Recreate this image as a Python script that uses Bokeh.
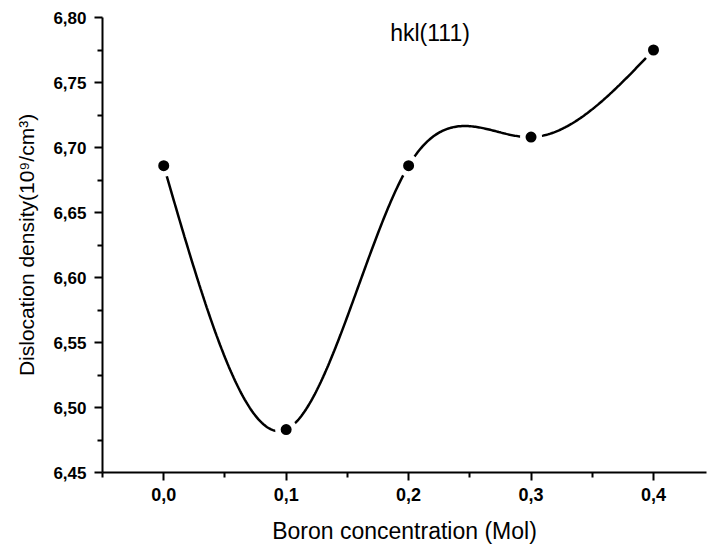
import numpy as np
from bokeh.plotting import figure
from bokeh.models import Range1d, FixedTicker, Label
from bokeh.embed import file_html
from bokeh.resources import INLINE

# data
boron = [0.0, 0.1, 0.2, 0.3, 0.4]
density = [6.686, 6.483, 6.686, 6.708, 6.775]
x_ticks = [0.0, 0.1, 0.2, 0.3, 0.4]
x_tick_labels = ["0,0", "0,1", "0,2", "0,3", "0,4"]
y_ticks = [6.45, 6.50, 6.55, 6.60, 6.65, 6.70, 6.75, 6.80]
y_tick_labels = ["6,45", "6,50", "6,55", "6,60", "6,65", "6,70", "6,75", "6,80"]


def natural_spline(xs, ys, n=400):
    xs = np.asarray(xs, float)
    ys = np.asarray(ys, float)
    k = len(xs)
    h = np.diff(xs)
    A = np.zeros((k, k))
    b = np.zeros(k)
    A[0, 0] = 1
    A[-1, -1] = 1
    for i in range(1, k - 1):
        A[i, i - 1] = h[i - 1]
        A[i, i] = 2 * (h[i - 1] + h[i])
        A[i, i + 1] = h[i]
        b[i] = 6 * ((ys[i + 1] - ys[i]) / h[i] - (ys[i] - ys[i - 1]) / h[i - 1])
    M = np.linalg.solve(A, b)
    xx = np.linspace(xs[0], xs[-1], n)
    yy = np.empty_like(xx)
    for j, x in enumerate(xx):
        i = min(np.searchsorted(xs, x, side="right") - 1, k - 2)
        t1 = xs[i + 1] - x
        t0 = x - xs[i]
        yy[j] = (M[i] * t1 ** 3 / (6 * h[i]) + M[i + 1] * t0 ** 3 / (6 * h[i])
                 + (ys[i] / h[i] - M[i] * h[i] / 6) * t1
                 + (ys[i + 1] / h[i] - M[i + 1] * h[i] / 6) * t0)
    return xx, yy


p = figure(width=707, height=549, output_backend="svg", toolbar_location=None,
           x_range=Range1d(-0.05, 0.4433), y_range=Range1d(6.45, 6.80),
           min_border_left=102, min_border_right=1, min_border_top=17, min_border_bottom=77)
p.outline_line_color = None
p.xgrid.visible = False
p.ygrid.visible = False
p.background_fill_color = "white"
p.border_fill_color = "white"

sx, sy = natural_spline(boron, density)
p.line(sx, sy, line_color="black", line_width=2.5)
p.scatter(boron, density, size=22, color="white", line_color=None)
p.scatter(boron, density, size=11, color="black", line_color=None)

p.xaxis.ticker = FixedTicker(ticks=x_ticks, minor_ticks=[-0.05, 0.05, 0.15, 0.25, 0.35])
p.xaxis.major_label_overrides = dict(zip(x_ticks, x_tick_labels))
p.yaxis.ticker = FixedTicker(ticks=y_ticks, minor_ticks=[6.475, 6.525, 6.575, 6.625, 6.675, 6.725, 6.775])
p.yaxis.major_label_overrides = dict(zip(y_ticks, y_tick_labels))

for ax in (p.xaxis, p.yaxis):
    ax.axis_line_width = 2
    ax.axis_line_color = "black"
    ax.major_tick_line_width = 2
    ax.minor_tick_line_width = 2
    ax.major_tick_line_color = "black"
    ax.minor_tick_line_color = "black"
    ax.major_tick_in = 0
    ax.major_tick_out = 8
    ax.minor_tick_in = 0
    ax.minor_tick_out = 5
    ax.major_label_text_font = "Liberation Sans"
    ax.major_label_text_font_style = "bold"
    ax.major_label_text_color = "black"
    ax.axis_label_text_font = "Liberation Sans"
    ax.axis_label_text_font_style = "normal"
    ax.axis_label_text_color = "black"

p.xaxis.major_label_text_font_size = "18px"
p.yaxis.major_label_text_font_size = "17px"
p.xaxis.axis_label_text_font_size = "23px"
p.yaxis.axis_label_text_font_size = "21px"

p.xaxis.major_label_standoff = 7
p.yaxis.major_label_standoff = 8
p.xaxis.axis_label = "Boron concentration (Mol)"
p.yaxis.axis_label = "Dislocation density(10⁹/cm³)"
p.xaxis.axis_label_standoff = 14
p.yaxis.axis_label_standoff = 12

p.add_layout(Label(x=0.2175, y=6.788, text="hkl(111)", text_font="Liberation Sans",
                   text_font_size="23px", text_align="center", text_baseline="middle",
                   text_color="black"))

open("out.html", "w").write(file_html(p, INLINE))
